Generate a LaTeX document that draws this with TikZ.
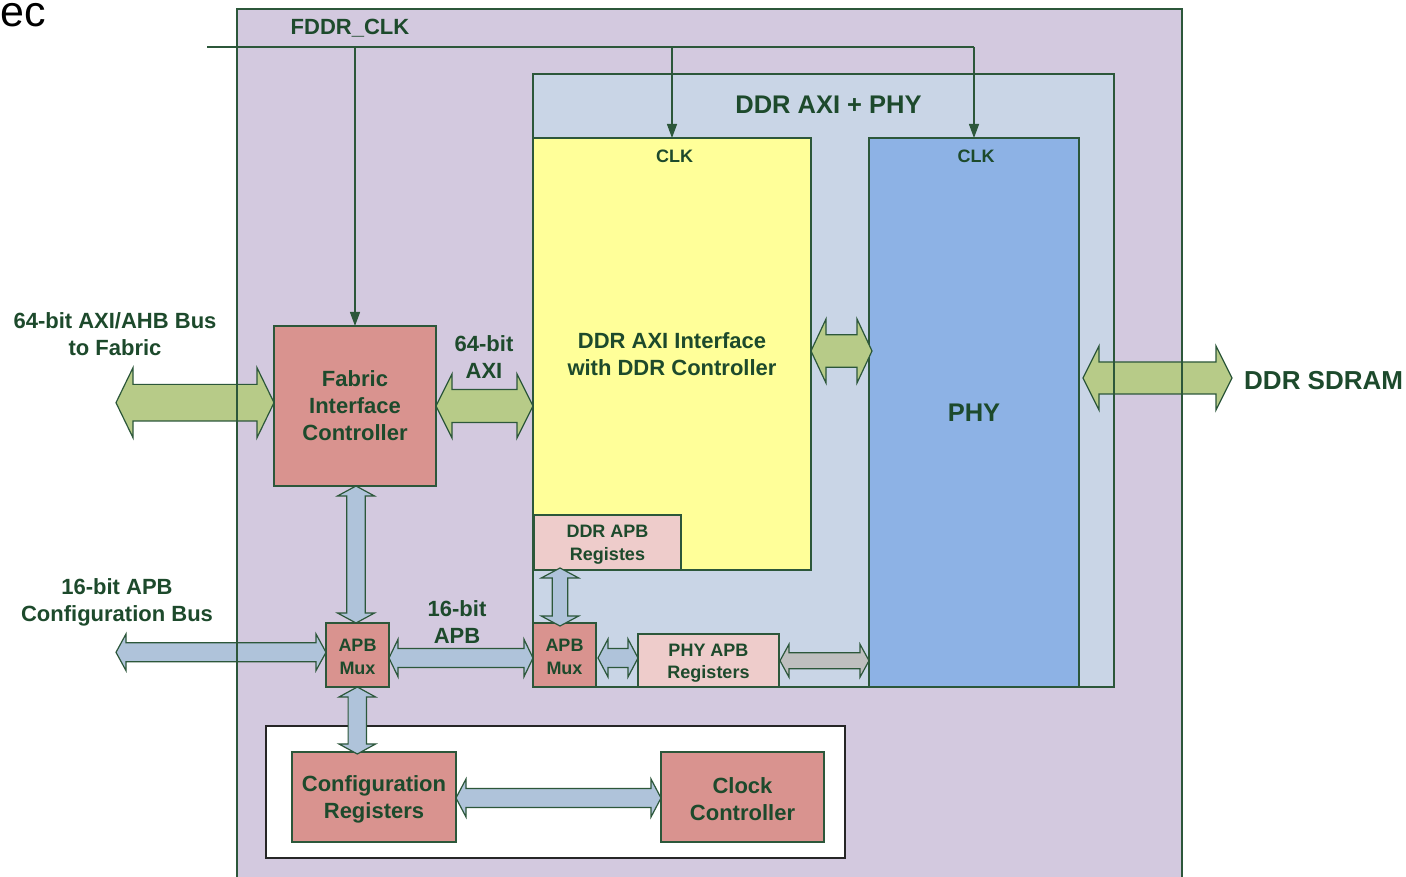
\documentclass[tikz,border=0pt]{standalone}
\usepackage{fontspec}
\setmainfont{Liberation Sans}
\usetikzlibrary{calc,arrows.meta}
\definecolor{txt}{HTML}{1D4A2C}
\definecolor{lnc}{HTML}{2C573A}
\definecolor{lav}{HTML}{D3C9DF}
\definecolor{ltblue}{HTML}{C9D5E6}
\definecolor{yel}{HTML}{FFFF99}
\definecolor{phyc}{HTML}{8DB2E5}
\definecolor{redbox}{HTML}{D9938F}
\definecolor{pinkbox}{HTML}{EECCCB}
\definecolor{grn}{HTML}{B7CB88}
\definecolor{blu}{HTML}{AFC3DA}
\definecolor{gry}{HTML}{BFBFBF}
\newcommand\hfat[7]{%
\draw[#1] let \p1=#2, \p2=#3 in
 (\x1,#4) -- (\x1+#7,#4+#5) -- (\x1+#7,#4+#6) -- (\x2-#7,#4+#6) -- (\x2-#7,#4+#5) -- (\x2,#4) -- (\x2-#7,#4-#5) -- (\x2-#7,#4-#6) -- (\x1+#7,#4-#6) -- (\x1+#7,#4-#5) -- cycle;}
\newcommand\vfat[7]{%
\draw[#1] let \p1=#2, \p2=#3 in
 (#4,\y1) -- (#4+#5,\y1-#7) -- (#4+#6,\y1-#7) -- (#4+#6,\y2+#7) -- (#4+#5,\y2+#7) -- (#4,\y2) -- (#4-#5,\y2+#7) -- (#4-#6,\y2+#7) -- (#4-#6,\y1-#7) -- (#4-#5,\y1-#7) -- cycle;}
\begin{document}
\begin{tikzpicture}[x=1pt,y=1pt,
  box/.style={draw=lnc, line width=1.3pt, inner sep=0pt, outer sep=0pt, text=txt, align=center,
    font=\bfseries\fontsize{22}{27}\selectfont},
  smalltxt/.style={font=\bfseries\fontsize{18}{22.5}\selectfont},
  bigtxt/.style={font=\bfseries\fontsize{25.5}{30}\selectfont},
  lbl/.style={inner sep=0pt, text=txt, align=center, font=\bfseries\fontsize{22}{27}\selectfont},
  clkline/.style={draw=lnc, line width=1.3pt},
  fatg/.style={fill=grn, draw=lnc, line width=1.2pt, line join=miter},
  fatb/.style={fill=blu, draw=lnc, line width=1.2pt, line join=miter},
  fatgr/.style={fill=gry, draw=lnc, line width=1.2pt, line join=miter},
  bordr/.style={draw=lnc, line width=1.3pt}
]
\useasboundingbox (0,0) rectangle (1406,876);
\clip (0,0) rectangle (1406,876);
\fill[white] (0,0) rectangle (1406,876);

% boxes
\node[box, fill=lav, minimum width=945pt, minimum height=880pt] (outer) at (709.5,427) {};
\node[box, fill=ltblue, minimum width=581pt, minimum height=613pt] (ddrphy) at (823.5,495.5) {};
\node[box, fill=yel, minimum width=278pt, minimum height=432pt] (yel) at (672,522) {DDR AXI Interface\\with DDR Controller};
\node[box, bigtxt, fill=phyc, minimum width=210pt, minimum height=549pt] (phy) at (974,463.5) {PHY};
\node[box, fill=pinkbox, minimum width=147pt, minimum height=55pt] (ddrapb) at (607.5,333.5) {};
\node[box, fill=redbox, minimum width=63pt, minimum height=64pt] (mux2) at (564.5,221) {};
\node[box, fill=pinkbox, minimum width=141pt, minimum height=53pt] (phyapb) at (708.5,215.5) {};
\node[box, fill=redbox, minimum width=162pt, minimum height=160pt] (fic) at (355,470) {Fabric\\Interface\\Controller};
\node[box, fill=redbox, minimum width=63pt, minimum height=64pt] (mux1) at (357.5,221) {};
\node[draw=black!85, fill=white, line width=1.3pt, inner sep=0pt, minimum width=579pt, minimum height=132pt] (cfgbox) at (555.5,84) {};
\node[box, fill=redbox, minimum width=164pt, minimum height=90pt] (cfg) at (374,79) {};
\node[box, fill=redbox, minimum width=163pt, minimum height=90pt] (clk) at (742.5,79) {};

% box texts
\node[lbl, smalltxt] (ddrapbt) at ([yshift=-2pt]ddrapb.center) {DDR APB\\Registes};
\node[lbl, smalltxt] (mux2t) at ([yshift=-2pt]mux2.center) {APB\\Mux};
\node[lbl, smalltxt] (phyapbt) at ([yshift=-2.5pt]phyapb.center) {PHY APB\\Registers};
\node[lbl, smalltxt] (mux1t) at ([yshift=-2pt]mux1.center) {APB\\Mux};
\node[lbl] (cfgt) at ([yshift=-2.5pt]cfg.center) {Configuration\\Registers};
\node[lbl] (clkt) at ([yshift=-2pt]clk.center) {Clock\\Controller};

% labels
\node[lbl] (fddr) at (350,847.5) {FDDR\_CLK};
\node[lbl, bigtxt] (title) at (828.5,771) {DDR AXI + PHY};
\node[lbl, smalltxt] (clka) at (674.5,720) {CLK};
\node[lbl, smalltxt] (clkb) at (976,720) {CLK};
\node[lbl] (axiahb) at (115,542) {64-bit AXI/AHB Bus\\to Fabric};
\node[lbl] (axi64) at (484,519) {64-bit\\AXI};
\node[lbl, font=\bfseries\fontsize{26}{30}\selectfont, anchor=west] (sdram) at (1244,495) {DDR SDRAM};
\node[lbl] (apbcfg) at (117,274) {16-bit APB\\Configuration Bus};
\node[lbl] (apb16) at (457,254) {16-bit\\APB};
\node[inner sep=0pt, anchor=base east, font=\fontsize{43}{43}\selectfont] (ec) at (46,849.5) {ec};

% clock lines
\coordinate (clkin) at (207,829);
\coordinate (clkend) at (974,829);
\draw[clkline] (clkin) -- (clkend);
\draw[clkline, -{Triangle[length=14pt,width=10pt]}] (clkin -| fic.north) -- (fic.north);
\draw[clkline, -{Triangle[length=14pt,width=10pt]}] (clkin -| yel.north) -- (yel.north);
\draw[clkline, -{Triangle[length=14pt,width=10pt]}] (clkend) -- (phy.north);

% fat arrows
\coordinate (busL) at (116,473.3);
\coordinate (sdramR) at (1232,498);
\coordinate (apbL) at (116,223.7);
\hfat{fatg}{(busL)}{(fic.west)}{473.3}{35}{18.3}{17}
\hfat{fatg}{(fic.east)}{(yel.west)}{470}{32}{16.5}{16}
\hfat{fatg}{(yel.east)}{([xshift=3pt]phy.west)}{525}{32}{16.3}{15}
\hfat{fatg}{([xshift=4pt]phy.east)}{(sdramR)}{498}{32}{16}{16}
\hfat{fatb}{(apbL)}{(mux1.west)}{223.7}{18.3}{9.5}{10}
\hfat{fatb}{(mux1.east)}{(mux2.west)}{218}{18.7}{9.5}{9}
\hfat{fatb}{([xshift=2pt]mux2.east)}{(phyapb.west)}{218}{19}{9.5}{10}
\hfat{fatgr}{([xshift=1pt]phyapb.east)}{(phy.west)}{215.3}{16.5}{8}{9}
\hfat{fatb}{(cfg.east)}{(clk.west)}{78}{19}{9.5}{10}
\vfat{fatb}{(fic.south)}{(mux1.north)}{356}{18.5}{9.2}{10}
\vfat{fatb}{(mux1.south)}{([yshift=-2pt]cfg.north)}{357.3}{18.3}{9.2}{10}
\vfat{fatb}{([yshift=2pt]ddrapb.south)}{([yshift=-3pt]mux2.north)}{560}{18.7}{7.7}{10}

% borders over the arrows
\draw[bordr] (outer.north west) rectangle (outer.south east);
\draw[bordr] (ddrphy.north west) rectangle (ddrphy.south east);
\end{tikzpicture}
\end{document}
